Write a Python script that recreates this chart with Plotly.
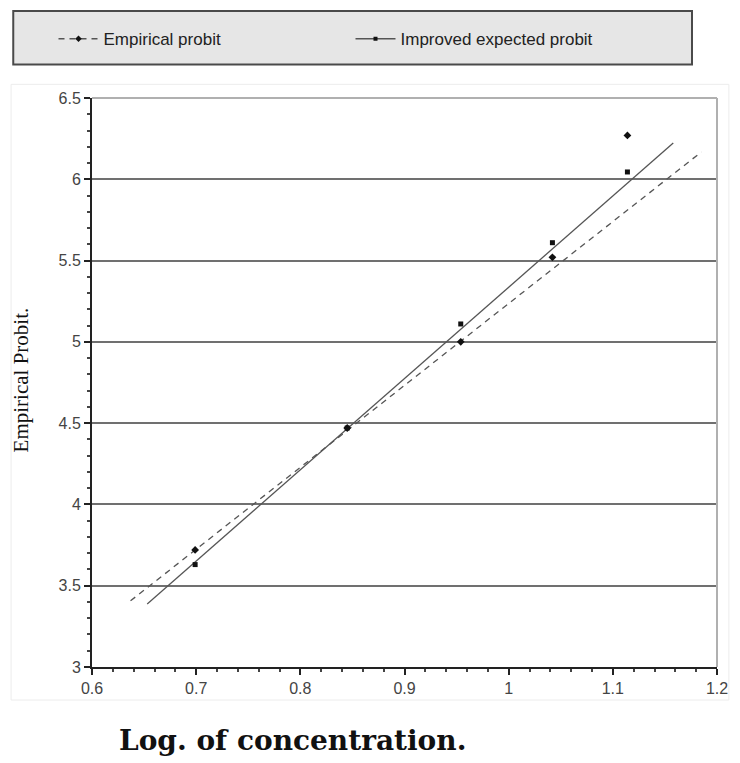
import plotly.graph_objects as go

# Log concentration of each dose group
log_conc = [0.699, 0.845, 0.954, 1.042, 1.114]

# Probit values per dose group
empirical_probit = [3.72, 4.47, 5.00, 5.52, 6.27]
improved_probit = [3.63, 4.47, 5.11, 5.61, 6.045]

# Fitted straight lines (start and end points)
empirical_fit_x = [0.637, 1.185]
empirical_fit_y = [3.407, 6.168]
improved_fit_x = [0.653, 1.158]
improved_fit_y = [3.388, 6.223]

x_ticks = [0.6, 0.7, 0.8, 0.9, 1.0, 1.1, 1.2]
x_tick_text = ["0.6", "0.7", "0.8", "0.9", "1", "1.1", "1.2"]
y_ticks = [3, 3.5, 4, 4.5, 5, 5.5, 6, 6.5]
y_tick_text = ["3", "3.5", "4", "4.5", "5", "5.5", "6", "6.5"]

LINE_COLOR = "#555555"

fig = go.Figure()

# fitted lines
fig.add_trace(go.Scatter(
    x=empirical_fit_x, y=empirical_fit_y, mode="lines",
    line=dict(color=LINE_COLOR, width=1.3, dash="6px,5px"),
    showlegend=False, hoverinfo="skip"))
fig.add_trace(go.Scatter(
    x=improved_fit_x, y=improved_fit_y, mode="lines",
    line=dict(color=LINE_COLOR, width=1.3),
    showlegend=False, hoverinfo="skip"))

# data points
fig.add_trace(go.Scatter(
    x=log_conc, y=empirical_probit, mode="markers",
    marker=dict(symbol="diamond", size=6, color="#111111"),
    showlegend=False, name="Empirical probit"))
fig.add_trace(go.Scatter(
    x=log_conc, y=improved_probit, mode="markers",
    marker=dict(symbol="square", size=5, color="#111111"),
    showlegend=False, name="Improved expected probit"))

# legend entries
fig.add_trace(go.Scatter(
    x=[None], y=[None], mode="lines+markers", name="Empirical probit",
    line=dict(color=LINE_COLOR, width=1.3, dash="6px,5px"),
    marker=dict(symbol="diamond", size=5, color="#111111")))
fig.add_trace(go.Scatter(
    x=[None], y=[None], mode="lines+markers", name="Improved expected probit",
    line=dict(color=LINE_COLOR, width=1.3),
    marker=dict(symbol="square", size=4, color="#111111")))

fig.update_layout(
    width=740, height=763,
    margin=dict(l=92, r=15, t=98, b=96),
    paper_bgcolor="white", plot_bgcolor="white",
    font=dict(family="Liberation Sans, Arial, sans-serif", color="#333333", size=15),
    showlegend=True,
    legend=dict(
        orientation="h", x=-0.0616, y=1.135, xanchor="left", yanchor="top",
        bgcolor="rgba(0,0,0,0)", borderwidth=0,
        font=dict(family="Liberation Sans, Arial, sans-serif", size=17, color="#222222"),
        entrywidth=242, itemwidth=40),
    shapes=[
        # legend box
        dict(type="rect", xref="paper", yref="paper",
             x0=-0.126, x1=0.960, y0=1.059, y1=1.153,
             fillcolor="#e6e6e6", line=dict(color="#4a4a4a", width=2), layer="below"),
        # plot frame, top and right sides
        dict(type="line", xref="paper", yref="paper", x0=0, x1=1, y0=1, y1=1,
             line=dict(color="#b0b0b0", width=2)),
        dict(type="line", xref="paper", yref="paper", x0=1, x1=1, y0=0, y1=1,
             line=dict(color="#b0b0b0", width=2)),
        # faint outer chart frame
        dict(type="rect", xref="paper", yref="paper",
             x0=-0.1295, x1=1.019, y0=-0.058, y1=1.024,
             line=dict(color="#ececec", width=1), layer="below"),
    ],
    annotations=[
        dict(text="Log. of concentration.", xref="paper", yref="paper",
             x=0.321, y=-0.13, xanchor="center", yanchor="middle", showarrow=False,
             font=dict(family="DejaVu Serif, serif", size=28, weight="bold",
                       color="#111111")),
        dict(text="Empirical Probit.", xref="paper", yref="paper",
             x=-0.114, y=0.505, xanchor="center", yanchor="middle", showarrow=False,
             textangle=-90,
             font=dict(family="Liberation Serif, Times New Roman, serif", size=21,
                       color="#111111")),
    ],
)

fig.update_xaxes(
    range=[0.6, 1.2], tickvals=x_ticks, ticktext=x_tick_text,
    showgrid=False, zeroline=False,
    showline=True, linecolor="#222222", linewidth=2,
    ticks="outside", ticklen=6, tickwidth=2, tickcolor="#222222",
    minor=dict(dtick=0.02, ticks="outside", ticklen=3, tickwidth=1.5, tickcolor="#444444", showgrid=False),
    tickfont=dict(size=16, color="#444444"))

fig.update_yaxes(
    range=[3, 6.5], tickvals=y_ticks, ticktext=y_tick_text,
    showgrid=True, gridcolor="#707070", gridwidth=2, zeroline=False,
    showline=True, linecolor="#222222", linewidth=2,
    ticks="outside", ticklen=6, tickwidth=2, tickcolor="#222222",
    minor=dict(dtick=0.1, ticks="outside", ticklen=3, tickwidth=1.5, tickcolor="#444444", showgrid=False),
    tickfont=dict(size=16, color="#444444"))

fig.write_html("out.html")
